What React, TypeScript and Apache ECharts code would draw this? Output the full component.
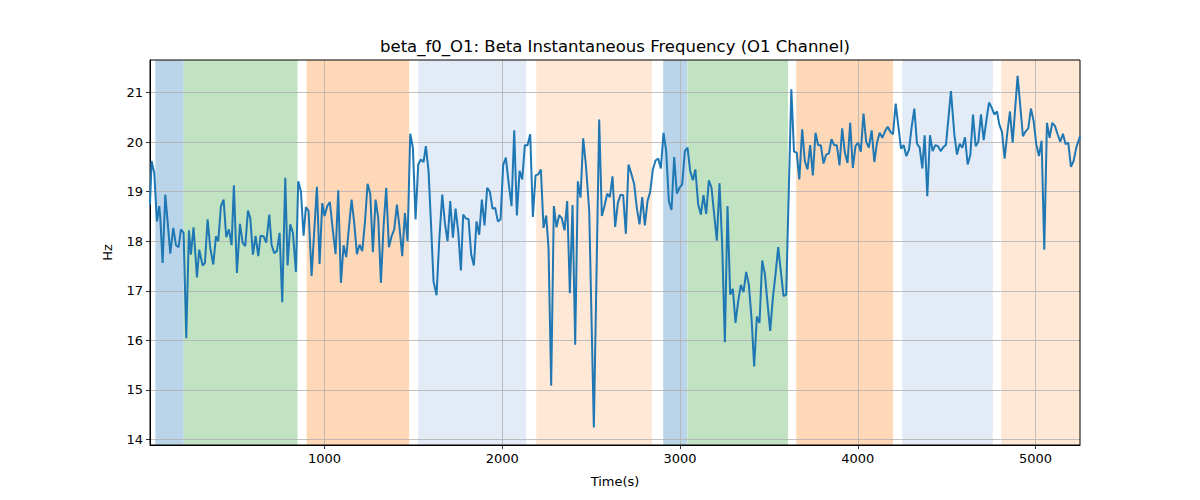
import React, { useEffect, useRef } from "react";
import * as echarts from "echarts";

const chartTitle = "beta_f0_O1: Beta Instantaneous Frequency (O1 Channel)";
const xAxisName = "Time(s)";
const yAxisName = "Hz";

const xTicks = [1000, 2000, 3000, 4000, 5000];
const yTicks = [14, 15, 16, 17, 18, 19, 20, 21];

const timeSec = [
  18, 27, 42, 57, 70, 76, 89, 104, 117, 132, 149, 164, 179, 192, 207, 222, 237, 248, 263, 282,
  295, 314, 327, 342, 357, 374, 389, 402, 417, 432, 447, 462, 477, 490, 507, 524, 539, 554, 569, 582,
  597, 612, 627, 640, 657, 672, 689, 702, 717, 732, 747, 762, 779, 792, 807, 822, 839, 852, 867, 882,
  895, 910, 927, 942, 957, 972, 987, 1000, 1015, 1030, 1045, 1062, 1077, 1092, 1107, 1122, 1137, 1152, 1167, 1182,
  1197, 1212, 1227, 1242, 1257, 1272, 1287, 1302, 1317, 1332, 1347, 1362, 1377, 1392, 1407, 1422, 1437, 1452, 1467, 1482,
  1497, 1512, 1527, 1542, 1557, 1570, 1585, 1600, 1613, 1630, 1645, 1662, 1677, 1692, 1707, 1722, 1737, 1752, 1767, 1780,
  1795, 1810, 1825, 1840, 1855, 1870, 1885, 1900, 1915, 1930, 1945, 1960, 1975, 1990, 2005, 2020, 2035, 2052, 2067, 2082,
  2097, 2112, 2127, 2142, 2157, 2172, 2187, 2202, 2217, 2232, 2247, 2260, 2275, 2290, 2305, 2320, 2335, 2350, 2365, 2380,
  2395, 2410, 2425, 2440, 2455, 2470, 2489, 2515, 2545, 2560, 2575, 2590, 2605, 2620, 2635, 2650, 2665, 2680, 2695, 2710,
  2727, 2742, 2757, 2772, 2787, 2802, 2817, 2832, 2847, 2862, 2877, 2892, 2907, 2922, 2937, 2952, 2967, 2982, 2997, 3012,
  3027, 3042, 3057, 3072, 3086, 3102, 3117, 3132, 3147, 3162, 3177, 3192, 3207, 3222, 3237, 3252, 3267, 3282, 3297, 3312,
  3327, 3342, 3357, 3372, 3387, 3402, 3417, 3432, 3447, 3462, 3477, 3492, 3507, 3522, 3537, 3552, 3567, 3582, 3597, 3626,
  3641, 3656, 3671, 3687, 3702, 3717, 3732, 3747, 3762, 3777, 3792, 3807, 3822, 3837, 3852, 3867, 3882, 3897, 3912, 3927,
  3942, 3957, 3972, 3987, 4002, 4017, 4032, 4047, 4062, 4078, 4093, 4108, 4123, 4138, 4153, 4168, 4183, 4198, 4213, 4228,
  4243, 4258, 4273, 4288, 4303, 4318, 4333, 4348, 4363, 4376, 4391, 4406, 4421, 4436, 4451, 4466, 4481, 4496, 4524, 4543,
  4558, 4573, 4588, 4603, 4618, 4633, 4648, 4663, 4678, 4693, 4708, 4723, 4738, 4753, 4768, 4783, 4796, 4811, 4826, 4841,
  4856, 4871, 4899, 4929, 4944, 4959, 4974, 4989, 5004, 5019, 5034, 5049, 5064, 5079, 5094, 5109, 5124, 5139, 5154, 5169,
  5184, 5199, 5214, 5229, 5250,
];

const betaHz = [
  18.74, 19.62, 19.38, 18.40, 18.71, 18.47, 17.56, 18.94, 18.40, 17.75, 18.27, 17.92, 17.88, 18.24, 18.17, 16.04, 18.22, 17.73, 18.28, 17.27,
  17.83, 17.51, 17.56, 18.44, 17.86, 17.53, 18.10, 18.00, 18.71, 18.84, 18.08, 18.24, 17.92, 19.13, 17.36, 18.35, 17.97, 17.90, 18.62, 18.47,
  17.73, 18.11, 17.70, 18.11, 18.10, 17.97, 18.54, 17.93, 17.76, 17.80, 18.17, 16.77, 19.28, 17.51, 18.34, 18.17, 17.38, 19.21, 19.01, 18.11,
  18.69, 18.61, 17.30, 18.20, 19.10, 17.54, 18.77, 18.51, 18.71, 18.79, 18.27, 17.74, 19.03, 17.16, 17.92, 17.68, 18.27, 18.84, 18.37, 17.74,
  17.93, 17.80, 18.37, 19.16, 18.96, 17.78, 18.84, 18.47, 17.16, 18.30, 19.08, 17.88, 18.10, 18.24, 18.74, 18.27, 17.70, 18.57, 18.00, 20.17,
  19.89, 18.44, 19.55, 19.65, 19.60, 19.92, 19.42, 18.27, 17.19, 16.91, 18.00, 18.94, 18.37, 18.00, 18.81, 18.07, 18.66, 18.20, 17.41, 18.54,
  18.46, 18.45, 17.73, 17.51, 18.40, 18.13, 18.84, 18.32, 19.08, 19.00, 18.66, 18.67, 18.40, 18.44, 19.54, 19.69, 19.20, 18.71, 20.24, 18.52,
  19.42, 19.25, 19.94, 19.94, 20.16, 18.49, 19.33, 19.35, 19.45, 18.27, 18.52, 17.86, 15.08, 18.71, 18.28, 18.53, 18.46, 18.22, 18.81, 16.95,
  18.73, 15.91, 19.21, 18.88, 20.08, 19.55, 18.61, 14.24, 20.46, 18.51, 18.71, 18.96, 18.89, 19.31, 18.29, 18.77, 18.94, 18.93, 18.15, 19.55,
  19.35, 19.15, 18.67, 18.34, 18.89, 18.32, 18.81, 19.00, 19.45, 19.63, 19.67, 19.47, 20.19, 19.82, 18.81, 18.63, 19.70, 18.96, 19.08, 19.15,
  19.82, 19.89, 19.42, 19.23, 19.45, 18.74, 18.54, 18.93, 18.55, 19.23, 19.08, 18.54, 18.01, 19.17, 17.93, 15.96, 18.71, 16.92, 17.04, 16.35,
  16.79, 17.12, 16.97, 17.38, 17.12, 16.45, 15.47, 16.48, 16.35, 17.61, 17.34, 16.75, 16.19, 16.85, 17.33, 17.88, 17.39, 16.89, 16.92, 21.07,
  19.81, 19.79, 19.25, 20.26, 19.62, 19.45, 19.94, 19.33, 20.19, 19.94, 19.94, 19.57, 19.75, 19.77, 20.06, 19.94, 19.94, 19.53, 20.28, 19.79,
  19.58, 20.39, 19.48, 19.92, 19.99, 19.81, 20.58, 20.01, 19.89, 20.24, 19.60, 19.99, 20.19, 20.09, 20.22, 20.31, 20.21, 20.16, 20.78, 20.33,
  19.87, 19.94, 19.72, 19.85, 20.31, 20.68, 19.97, 19.89, 19.47, 20.14, 18.91, 20.14, 19.82, 19.94, 19.92, 19.82, 19.90, 19.95, 21.03, 20.16,
  19.75, 19.97, 19.89, 20.10, 19.55, 19.74, 20.56, 19.92, 20.01, 20.56, 20.04, 20.43, 20.80, 20.70, 20.56, 20.62, 20.36, 20.21, 19.67, 20.19,
  20.62, 19.99, 21.34, 20.12, 20.22, 20.28, 20.68, 20.43, 19.96, 19.72, 20.03, 17.83, 20.39, 20.09, 20.39, 20.33, 20.16, 20.01, 20.17, 19.96,
  19.99, 19.50, 19.62, 19.89, 20.12,
];

// shaded intervals (seconds)
const spanStart = [48, 208, 899, 1527, 2191, 2905, 3041, 3654, 4250, 4807];
const spanEnd = [208, 848, 1476, 2135, 2842, 3040, 3607, 4198, 4760, 5250];
const spanKind = ["blue", "green", "orange", "lightblue", "lightorange", "blue", "green", "orange", "lightblue", "lightorange"];

const X_MIN = 18;
const X_MAX = 5250;
const Y_MIN = 13.885;
const Y_MAX = 21.66;

const kindColor: Record<string, string> = {
  blue: "#BAD5E9",
  green: "#C1E3C1",
  orange: "#FFD9B7",
  lightblue: "#E3EBF6",
  lightorange: "#FFE9D6",
};

const FONT = "DejaVu Sans";

export default function App() {
  const ref = useRef<HTMLDivElement>(null);
  useEffect(() => {
    if (!ref.current) return;
    const chart = echarts.init(ref.current, null, { renderer: "svg" });
    const lineData = timeSec.map((t, i) => [t, betaHz[i]]);
    const areas = spanStart.map((s, i) => [
      { xAxis: s, itemStyle: { color: kindColor[spanKind[i]] } },
      { xAxis: spanEnd[i] },
    ]);
    chart.setOption({
      animation: false,
      backgroundColor: "#ffffff",
      grid: {
        left: 150,
        right: 120,
        top: 60,
        bottom: 55,
        show: true,
        z: 3,
        borderColor: "#000000",
        borderWidth: 1,
        backgroundColor: "transparent",
      },
      graphic: [
        {
          type: "text",
          x: 615,
          y: 46,
          style: {
            text: chartTitle,
            fontFamily: FONT,
            fontSize: 16.5,
            fill: "#000",
            textAlign: "center",
            textVerticalAlign: "middle",
          },
        },
      ],
      xAxis: {
        type: "value",
        min: X_MIN,
        max: X_MAX,
        z: 1.5,
        name: xAxisName,
        nameLocation: "middle",
        nameGap: 30,
        nameTextStyle: { fontFamily: FONT, fontSize: 13, color: "#000" },
        axisLine: { show: true, onZero: false, lineStyle: { color: "#000", width: 1 } },
        axisTick: { show: true, length: 4, customValues: xTicks, lineStyle: { color: "#000", width: 0.8 } },
        axisLabel: {
          customValues: xTicks,
          formatter: (v: number) => String(v),
          margin: 7,
          fontFamily: FONT,
          fontSize: 13,
          color: "#000",
        },
        splitLine: { show: true, lineStyle: { color: "#b0b0b0", width: 0.8 } },
      },
      yAxis: {
        type: "value",
        min: Y_MIN,
        max: Y_MAX,
        z: 1.5,
        name: yAxisName,
        nameLocation: "middle",
        nameGap: 36,
        nameRotate: 90,
        nameTextStyle: { fontFamily: FONT, fontSize: 13, color: "#000" },
        axisLine: { show: true, onZero: false, lineStyle: { color: "#000", width: 1 } },
        axisTick: { show: true, length: 4, customValues: yTicks, lineStyle: { color: "#000", width: 0.8 } },
        axisLabel: {
          customValues: yTicks,
          formatter: (v: number) => String(v),
          margin: 7,
          fontFamily: FONT,
          fontSize: 13,
          color: "#000",
        },
        splitLine: { show: true, lineStyle: { color: "#b0b0b0", width: 0.8 } },
      },
      series: [
        {
          type: "line",
          name: "spans",
          data: [],
          silent: true,
          markArea: { silent: true, z: 1, data: areas },
        },
        {
          type: "line",
          name: "beta_f0",
          data: lineData,
          z: 4,
          showSymbol: false,
          symbol: "none",
          lineStyle: { color: "#1f77b4", width: 2 },
          itemStyle: { color: "#1f77b4" },
        },
      ],
    });
    return () => chart.dispose();
  }, []);
  return (
    <div
      ref={ref}
      style={{ position: "fixed", left: 0, top: 0, width: 1200, height: 500 }}
    />
  );
}
